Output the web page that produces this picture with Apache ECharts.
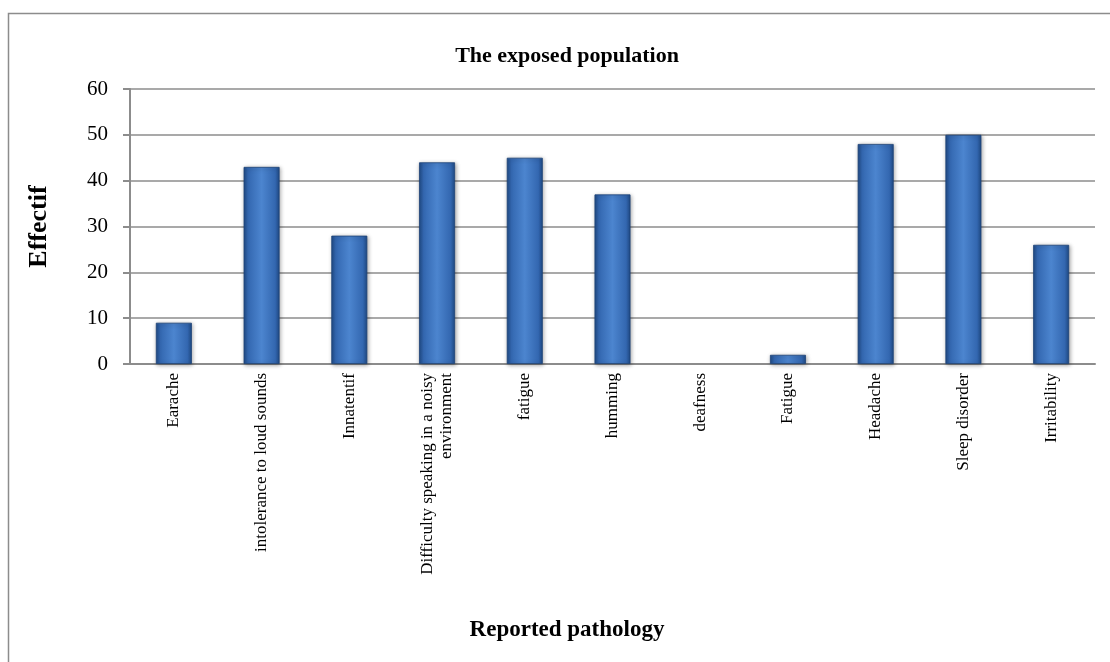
<!DOCTYPE html>
<html>
<head>
<meta charset="utf-8">
<script src="https://cdn.jsdelivr.net/npm/echarts@6/dist/echarts.min.js"></script>
<style>
  html, body { margin: 0; padding: 0; background: #fff; }
  #chart { width: 1110px; height: 662px; }
</style>
</head>
<body>
<div id="chart"></div>
<script>
// Reported pathologies among the exposed population
const categories = [
  'Earache',
  'intolerance to loud sounds',
  'Innatentif',
  'Difficulty speaking in a noisy\nenvironment',
  'fatigue',
  'humming',
  'deafness',
  'Fatigue',
  'Headache',
  'Sleep disorder',
  'Irritability'
];
const effectif = [9, 43, 28, 44, 45, 37, 0, 2, 48, 50, 26];
const yTicks = { min: 0, max: 60, interval: 10 };

const serif = '"Liberation Serif", "Times New Roman", serif';

const barFill = new echarts.graphic.LinearGradient(0, 0, 1, 0, [
  { offset: 0, color: '#1f4a85' },
  { offset: 0.12, color: '#3367b0' },
  { offset: 0.5, color: '#4c85cf' },
  { offset: 0.88, color: '#3367b0' },
  { offset: 1, color: '#1f4a85' }
]);

// empty categories get no visible bar
const barData = effectif.map(v => v === 0 ? { value: v, itemStyle: { opacity: 0 } } : v);

const chart = echarts.init(document.getElementById('chart'), null, { renderer: 'canvas' });
chart.setOption({
  animation: false,
  backgroundColor: '#ffffff',
  title: [{
    text: 'The exposed population',
    left: 562,
    textAlign: 'center',
    top: 40,
    textStyle: { fontFamily: serif, fontWeight: 'bold', fontSize: 22, color: '#000' }
  }, {
    text: 'Reported pathology',
    left: 562,
    textAlign: 'center',
    top: 614,
    textStyle: { fontFamily: serif, fontWeight: 'bold', fontSize: 23, color: '#000' }
  }],
  graphic: [{
    type: 'rect',
    shape: { x: 8.5, y: 13.5, width: 1120, height: 700 },
    style: { fill: 'none', stroke: '#8c8c8c', lineWidth: 1.5 },
    silent: true,
    z: -1
  }],
  grid: { left: 130, right: 15, top: 89, bottom: 298, containLabel: false },
  xAxis: {
    type: 'category',
    data: categories,
    axisLine: { lineStyle: { color: '#8c8c8c', width: 2 } },
    axisTick: { show: false },
    axisLabel: {
      rotate: 90,
      interval: 0,
      margin: 9,
      fontFamily: serif,
      fontSize: 17,
      color: '#000',
      lineHeight: 19
    }
  },
  yAxis: {
    type: 'value',
    min: yTicks.min,
    max: yTicks.max,
    interval: yTicks.interval,
    name: 'Effectif',
    nameLocation: 'middle',
    nameGap: 78,
    nameRotate: 90,
    nameTextStyle: { fontFamily: serif, fontWeight: 'bold', fontSize: 26, color: '#000' },
    axisLine: { show: true, lineStyle: { color: '#8c8c8c', width: 2 } },
    axisTick: { show: true, length: 7, lineStyle: { color: '#8c8c8c', width: 2 } },
    splitLine: { show: true, lineStyle: { color: '#8c8c8c', width: 1.5 } },
    axisLabel: { fontFamily: serif, fontSize: 21, color: '#000', margin: 22 }
  },
  series: [{
    type: 'bar',
    data: barData,
    barWidth: '41%',
    itemStyle: {
      color: barFill,
      borderColor: '#1d4277',
      borderWidth: 0.8,
      shadowColor: 'rgba(0,0,0,0.35)',
      shadowBlur: 4,
      shadowOffsetX: 1,
      shadowOffsetY: 1
    }
  }]
});
</script>
</body>
</html>
